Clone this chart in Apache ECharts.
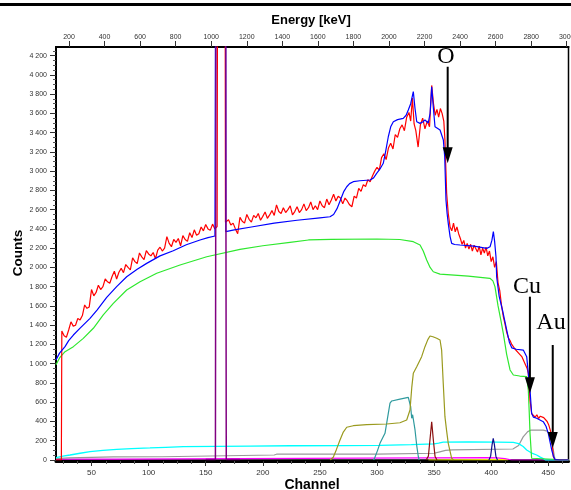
<!DOCTYPE html>
<html><head><meta charset="utf-8">
<script src="https://cdn.jsdelivr.net/npm/echarts@6/dist/echarts.min.js"></script>
<style>html,body{margin:0;padding:0;background:#fff}#c{width:571px;height:490px}</style>
</head><body><div id="c"></div>
<script>
// ---------- tick labels ----------
const channelTicks = [50,100,150,200,250,300,350,400,450];
const energyTicks = [200,400,600,800,1000,1200,1400,1600,1800,2000,2200,2400,2600,2800,3000];
const countTicks = [0,200,400,600,800,1000,1200,1400,1600,1800,2000,2200,2400,2600,2800,3000,3200,3400,3600,3800,4000,4200];

// ---------- series data: [channel, counts] ----------
const measured = [[18.9,0],[23.6,0],[24,1340],[26,1290],[28,1275],[30,1350],[32,1435],[34,1390],[36,1400],[38,1470],[40,1455],[42,1500],[44,1610],[46,1575],[48,1590],[50,1770],[52,1705],[54,1740],[56,1815],[58,1770],[60,1800],[62,1880],[64,1850],[66,1835],[68,1905],[70,1960],[72,1880],[74,1950],[76,1990],[78,1945],[80,2030],[82,2000],[84,1975],[86,2100],[88,2060],[90,2040],[92,2150],[94,2110],[96,2080],[98,2175],[100,2140],[102,2120],[104,2155],[106,2090],[108,2180],[110,2210],[112,2170],[114,2200],[116,2320],[118,2250],[120,2215],[122,2290],[124,2260],[126,2300],[128,2225],[130,2330],[132,2290],[134,2270],[136,2360],[138,2310],[140,2390],[142,2335],[144,2350],[146,2420],[148,2380],[150,2445],[152,2400],[154,2385],[156,2450],[158,2400],[160,2425],[161,10000],[166.5,10000],[167.3,2470],[170,2495],[172,2440],[174,2460],[176,2400],[178,2350],[180,2520],[182,2480],[184,2460],[186,2550],[188,2500],[190,2470],[192,2540],[194,2515],[196,2560],[198,2490],[200,2530],[202,2575],[204,2510],[206,2545],[208,2590],[210,2540],[212,2650],[214,2580],[216,2560],[218,2620],[220,2570],[222,2600],[224,2640],[226,2545],[228,2580],[230,2630],[232,2570],[234,2600],[236,2660],[238,2590],[240,2620],[242,2680],[244,2600],[246,2640],[248,2600],[250,2690],[252,2640],[254,2620],[256,2710],[258,2650],[260,2700],[262,2760],[264,2690],[266,2740],[268,2720],[270,2660],[272,2720],[274,2690],[276,2650],[278,2630],[280,2740],[282,2720],[284,2820],[286,2790],[288,2860],[290,2840],[292,2910],[294,2890],[296,2950],[298,3000],[300,3040],[302,3010],[304,3140],[306,3180],[308,3120],[310,3240],[312,3290],[314,3230],[316,3380],[318,3350],[320,3440],[322,3480],[324,3420],[326,3560],[328,3610],[329.5,3520],[331,3760],[332.5,3490],[334,3420],[336,3250],[338,3480],[340,3550],[342,3440],[344,3520],[346,3460],[347.9,3890],[349.5,3700],[351,3580],[352.5,3640],[354,3560],[355.5,3650],[357,3600],[358.5,3520],[359.5,3320],[361,2770],[362.4,2560],[364,2420],[365.5,2380],[367,2460],[368.5,2370],[370,2420],[371.5,2350],[373,2300],[374.5,2240],[376,2280],[377.5,2200],[379,2250],[380.5,2190],[382,2240],[383.5,2170],[385,2230],[386.5,2250],[388,2160],[389.5,2220],[391,2130],[392.5,2200],[394,2150],[395.5,2210],[397,2120],[398.5,2170],[400,2060],[401.5,2110],[403,2000],[404.5,2060],[406,1840],[407.5,1760],[409,1610],[410.6,1490],[412,1420],[413.5,1330],[415,1270],[416.5,1240],[418,1200],[419.5,1180],[421,1150],[422.5,1160],[424,1110],[425.5,1130],[427,1070],[428.5,1060],[430,990],[431.5,950],[432.5,900],[434,620],[435.5,480],[437,460],[438.5,445],[440,470],[441.5,430],[443,455],[444.5,470],[446,440],[447.5,460],[449,400],[450.5,360],[452,300],[453,240],[454.4,34],[456,0],[467.7,0]];

const simulated = [[18.9,1040],[22,1110],[26.8,1177],[30,1240],[34.1,1298],[40,1370],[48.7,1471],[55,1560],[63.3,1689],[72,1800],[80.8,1903],[90,1980],[98.3,2042],[110,2120],[121.6,2173],[133,2235],[145,2285],[152,2310],[158.1,2326],[159.3,2330],[159.6,10000],[167.3,10000],[167.6,2371],[175,2390],[190,2420],[210,2460],[230,2490],[250,2515],[258.8,2526],[262,2550],[265,2610],[268,2700],[271,2790],[273.5,2838],[276,2870],[279.2,2890],[285,2900],[293.9,2908],[297,2930],[299.7,2977],[302.5,3020],[305.5,3081],[307.5,3200],[309.9,3357],[312,3460],[314.3,3513],[318,3535],[323,3548],[325.5,3580],[327.4,3634],[329.5,3700],[331.8,3825],[333.3,3650],[334.8,3513],[337.7,3496],[340,3510],[342,3531],[344.9,3500],[346.5,3600],[347.9,3877],[349.4,3650],[350.8,3461],[355.2,3427],[358.1,3323],[359.3,3150],[360.4,2700],[361.4,2560],[362.4,2458],[364,2320],[365.4,2250],[368,2238],[372.7,2233],[385,2222],[396.1,2198],[399,2215],[400.6,2280],[401.9,2371],[403,2270],[404.2,2111],[404.8,1900],[407,1700],[410,1550],[413.6,1350],[416,1220],[418,1165],[422,1150],[428.1,1142],[431.1,1073],[432.5,900],[434,727],[435.4,485],[437,445],[439.8,433],[445.6,398],[448,350],[450,277],[451.5,190],[453,104],[454.5,40],[455.9,5],[460,0],[467.7,0]];

const substrate = [[18.9,990],[22,1060],[26.8,1125],[34.1,1177],[42.8,1263],[51.6,1368],[60.3,1506],[69.1,1627],[80.8,1765],[92.5,1852],[107.1,1939],[127.5,2025],[150.9,2111],[180,2188],[200,2225],[223.8,2261],[240,2285],[260,2292],[300,2295],[320,2290],[331.8,2267],[337.7,2233],[340.5,2170],[343.5,2077],[346.5,2000],[349.3,1955],[355.2,1931],[380,1910],[398.9,1887],[401.5,1860],[403.3,1800],[406,1600],[408.5,1450],[410.6,1316],[413.5,1100],[416.5,935],[419.4,883],[425,872],[431.1,865],[432.5,727],[433.3,500],[434,277],[435.4,18],[436.5,0],[467.7,0]];

const cyanLine = [[18.9,25],[25,40],[31.2,52],[40,70],[48.7,86],[60,100],[72.1,111],[85,118],[101.2,125],[115,132],[130.4,138],[160,142],[188.8,145],[223.8,148],[270,150],[302.6,152],[330,160],[350,168],[354,175],[358,185],[380,187],[405,186],[419.4,182],[424,170],[428,140],[431.1,104],[435,75],[439.8,52],[443,30],[445.6,15],[447.5,0],[467.7,0]];

const grayLine = [[18.9,15],[30,22],[50,28],[69,32],[112,34],[113.5,48],[210,52],[212,60],[300,62],[350,70],[355,85],[360,100],[366,105],[419,114],[424,150],[428,240],[432,295],[435,311],[445.6,311],[449,300],[451.5,260],[453,180],[454.4,104],[455.9,5],[467.7,0]];

const magentaLine = [[18.9,10],[72,10],[73,25],[396,25],[405,22],[412,15],[416,5],[418,0],[467.7,0]];

const purplePeak = [[150,5],[158.5,5],[159.6,10000],[166.9,10000],[168,5],[180,5]];

const oliveLine = [[259,0],[261.7,28],[264.5,110],[267.6,208],[270.5,290],[273.5,340],[279.2,356],[291,367],[308.5,374],[320.1,387],[326,415],[328.9,519],[330.5,760],[331.8,900],[334.8,969],[339.1,1073],[342,1177],[344.5,1250],[346.4,1288],[349,1280],[352.3,1264],[355.2,1246],[356.6,1142],[358,800],[359.5,450],[361,300],[362.4,173],[365.4,18],[367,0]];

const tealLine = [[297,0],[298.2,28],[300.5,100],[302.6,173],[305,230],[307,277],[309.9,485],[311.4,590],[312.9,613],[320.1,633],[327.4,651],[328.5,640],[329.5,553],[330.4,433],[331.2,470],[331.8,467],[333.3,312],[334.8,150],[336.2,34],[337,0]];

const maroonPeak = [[343,0],[345,40],[346.3,200],[347.9,397],[349.4,200],[350.8,40],[352.5,0]];
const navyPeak = [[398,0],[399.5,40],[400.8,160],[401.8,225],[402.8,160],[404.1,40],[405.5,0]];
const yellowLine = [[345,0],[346,4],[414,4],[415,0]];

// ---------- annotations (data coords) ----------
const annoLabels = ['O','Cu','Au'];
const annoTextPos = [[360.4,4185],[431.3,1796],[452.4,1423]];
const annoArrowX = [361.9,433.9,453.9];
const annoArrowFrom = [4084,1696,1194];
const annoArrowTo = [3081,693,125];

const FONT = '"Liberation Sans", Arial, sans-serif';
const fmtCount = v => v >= 1000 ? Math.floor(v/1000) + ' ' + String(v % 1000).padStart(3,'0') : String(v);

const chMinor = [];
for (let i = 0; i < channelTicks.length + 1; i++) {
  const base = i === 0 ? 0 : channelTicks[i-1];
  [12.5,25,37.5].forEach(d => { const v = base + d; if (v > 19 && v < 467) chMinor.push(v); });
}
const cntMinor = [];
countTicks.forEach(t => [50,100,150].forEach(d => { if (t + d < 4289) cntMinor.push(t + d); }));

const chart = echarts.init(document.getElementById('c'), null, {renderer:'canvas'});
const line = (data, color, width, z) => ({
  type:'line', data, showSymbol:false, symbol:'none', animation:false, z: z || 2,
  lineStyle:{color, width: width || 1.2}, itemStyle:{color}, clip:true
});

chart.setOption({
  animation:false,
  backgroundColor:'#fff',
  grid:{left:56, right:2.5, top:47, bottom:30, show:true, borderColor:'#000', borderWidth:1.5, containLabel:false, outerBoundsMode:'none'},
  xAxis:[
    {type:'value', position:'bottom', min:18.9, max:467.7, offset:1,
     axisLine:{show:true, onZero:false, lineStyle:{color:'#000', width:3}},
     axisTick:{show:true, customValues:channelTicks, length:5, lineStyle:{color:'#333', width:1}},
     axisLabel:{show:true, customValues:channelTicks, fontSize:8, color:'#333', margin:8, fontFamily:FONT, formatter: v => String(v)},
     splitLine:{show:false}},
    {type:'value', position:'bottom', min:18.9, max:467.7, offset:1,
     axisLine:{show:false, onZero:false},
     axisTick:{show:true, customValues:chMinor, length:3, lineStyle:{color:'#555', width:1}},
     axisLabel:{show:false}, splitLine:{show:false}},
    {type:'value', position:'top', min:126.9, max:3010,
     axisLine:{show:true, onZero:false, lineStyle:{color:'#000', width:2}},
     axisTick:{show:true, customValues:energyTicks, length:6, lineStyle:{color:'#333', width:1}},
     axisLabel:{show:true, customValues:energyTicks, fontSize:7, color:'#333', margin:6, fontFamily:FONT, formatter: v => String(v), hideOverlap:false},
     splitLine:{show:false}}
  ],
  yAxis:[
    {type:'value', position:'left', min:0, max:4289,
     axisLine:{show:true, onZero:false, lineStyle:{color:'#000', width:2}},
     axisTick:{show:true, customValues:countTicks, length:6, lineStyle:{color:'#333', width:1}},
     axisLabel:{show:true, customValues:countTicks, fontSize:7, color:'#333', margin:9, fontFamily:FONT, formatter:fmtCount},
     splitLine:{show:false}},
    {type:'value', position:'left', min:0, max:4289,
     axisLine:{show:false, onZero:false},
     axisTick:{show:true, customValues:cntMinor, length:3, lineStyle:{color:'#555', width:1}},
     axisLabel:{show:false}, splitLine:{show:false}}
  ],
  series:[
    line(yellowLine,'#ffff00',1.2),
    line(magentaLine,'#ff00ff',1.2),
    line(grayLine,'#999999',1.2),
    line(cyanLine,'#00ffff',1.3),
    line(tealLine,'#2f9a9e',1.2),
    line(oliveLine,'#9a9a1e',1.2),
    line(maroonPeak,'#8b1010',1.2),
    line(navyPeak,'#10108f',1.2),
    line(substrate,'#2ee82e',1.2),
    line(measured,'#ff0000',1.2),
    line(simulated,'#0000ff',1.2),
    line(purplePeak,'#800080',1.5)
  ]
});

const px = (c, v) => chart.convertToPixel({xAxisIndex:0, yAxisIndex:0}, [c, v]);
const g = [
  {type:'rect', shape:{x:0, y:3, width:571, height:3}, style:{fill:'#000'}, z:100},
  {type:'text', x:311, y:20, z:100, style:{text:'Energy [keV]', font:'bold 13px ' + FONT, fill:'#000', align:'center', verticalAlign:'middle', textAlign:'center', textVerticalAlign:'middle'}},
  {type:'text', x:312, y:485, z:100, style:{text:'Channel', font:'bold 14px ' + FONT, fill:'#000', align:'center', verticalAlign:'middle', textAlign:'center', textVerticalAlign:'middle'}},
  {type:'text', x:18, y:253, rotation:Math.PI/2, z:100, style:{text:'Counts', font:'bold 13.5px ' + FONT, fill:'#000', align:'center', verticalAlign:'middle', textAlign:'center', textVerticalAlign:'middle'}}
];
annoLabels.forEach((lab, i) => {
  const tp = px(annoTextPos[i][0], annoTextPos[i][1]);
  g.push({type:'text', x:tp[0], y:tp[1], z:100, style:{text:lab, font:'24px "Liberation Serif", "Times New Roman", serif', fill:'#000', align:'center', verticalAlign:'middle', textAlign:'center', textVerticalAlign:'middle'}});
  const a = px(annoArrowX[i], annoArrowFrom[i]);
  const b = px(annoArrowX[i], annoArrowTo[i]);
  g.push({type:'line', z:100, shape:{x1:a[0], y1:a[1], x2:b[0], y2:b[1]-10}, style:{stroke:'#000', lineWidth:2}});
  g.push({type:'polygon', z:100, shape:{points:[[b[0], b[1]], [b[0]-5, b[1]-16], [b[0]+5, b[1]-16]]}, style:{fill:'#000'}});
});
chart.setOption({graphic:g});
</script></body></html>
